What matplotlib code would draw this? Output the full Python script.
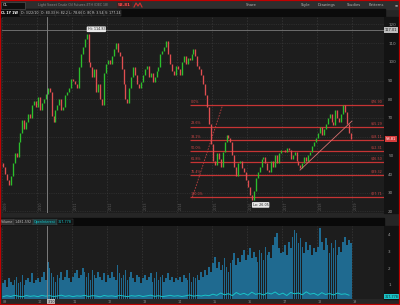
import numpy as np
import matplotlib.pyplot as plt
from matplotlib.patches import Rectangle
from matplotlib.lines import Line2D

# Cierres aproximados (18 puntos por año, 2009-2018)
close_2009 = [44, 40, 37, 34, 39, 46, 51, 49, 57, 62, 69, 64, 68, 72, 70, 77, 79, 76]
close_2010 = [81, 74, 78, 80, 83, 86, 84, 71, 68, 74, 77, 80, 74, 76, 82, 84, 86, 91]
close_2011 = [90, 88, 86, 97, 104, 108, 112, 114.83, 100, 97, 92, 96, 84, 88, 80, 77, 94, 99]
close_2012 = [101, 99, 103, 107, 110, 105, 103, 96, 88, 80, 78, 86, 92, 97, 93, 88, 86, 89]
close_2013 = [93, 96, 98, 92, 94, 89, 92, 95, 97, 104, 106, 108, 111, 104, 99, 95, 93, 98]
close_2014 = [96, 93, 100, 103, 99, 102, 101, 104, 107, 103, 98, 96, 93, 88, 82, 76, 67, 56]
close_2015 = [47, 45, 51, 48, 44, 52, 57, 61, 59, 57, 50, 44, 39, 46, 47, 43, 41, 37]
close_2016 = [33, 29, 26.05, 31, 38, 41, 44, 48, 49, 46, 42, 41, 47, 44, 50, 46, 51, 53]
close_2017 = [53, 52, 54, 53, 48, 50, 52, 47, 45, 43, 46, 49, 47, 50, 52, 55, 57, 59]
close_2018 = [62, 65, 61, 64, 67, 70, 72, 68, 66, 74, 70, 68, 72, 76.90, 73, 67, 62, 58.81]

vol_2009 = [1.1, 1.3, 0.9, 1.4, 1.2, 1.0, 1.3, 1.5, 1.1, 1.2, 1.6, 1.0, 1.3, 1.4, 1.2, 1.7, 1.1, 1.3]
vol_2010 = [1.4, 1.2, 1.5, 1.8, 1.3, 2.4, 2.0, 1.7, 1.5, 1.2, 1.6, 1.4, 1.8, 1.3, 1.5, 1.9, 1.4, 1.2]
vol_2011 = [1.5, 1.7, 1.9, 1.4, 1.6, 2.0, 1.8, 1.5, 1.7, 1.3, 1.9, 1.6, 1.4, 1.8, 1.5, 1.3, 1.7, 1.2]
vol_2012 = [1.6, 1.4, 1.8, 1.5, 1.3, 2.2, 1.7, 1.4, 1.6, 1.9, 1.3, 1.5, 1.8, 1.4, 1.2, 1.6, 1.5, 1.1]
vol_2013 = [1.4, 1.6, 1.3, 1.5, 1.7, 1.2, 1.4, 1.8, 1.3, 1.5, 1.6, 1.2, 1.4, 1.7, 1.3, 1.5, 1.2, 1.4]
vol_2014 = [1.3, 1.5, 1.2, 1.6, 1.4, 1.3, 1.7, 1.2, 1.5, 1.4, 1.6, 1.3, 1.8, 1.5, 1.9, 1.6, 2.1, 1.8]
vol_2015 = [2.3, 2.7, 2.0, 2.4, 1.9, 2.2, 2.6, 2.1, 1.8, 2.3, 2.5, 2.9, 2.2, 2.6, 2.4, 2.8, 3.1, 2.5]
vol_2016 = [2.8, 3.2, 2.6, 3.0, 2.7, 2.4, 3.1, 2.9, 2.5, 3.3, 2.8, 3.0, 2.6, 3.4, 3.9, 4.1, 3.2, 2.9]
vol_2017 = [3.0, 3.4, 2.8, 3.6, 3.2, 3.9, 4.3, 4.1, 3.5, 3.8, 3.3, 2.9, 3.6, 3.1, 3.4, 2.8, 3.2, 3.0]
vol_2018 = [3.3, 4.4, 3.6, 3.1, 3.8, 3.4, 2.9, 3.5, 3.2, 3.7, 2.8, 3.3, 3.0, 3.6, 3.9, 3.4, 3.7, 3.5]

# Open interest (un valor cada dos velas)
open_int = [0.30, 0.36, 0.31, 0.38, 0.33, 0.29, 0.37, 0.32, 0.35, 0.30,
            0.38, 0.33, 0.36, 0.31, 0.34, 0.39, 0.32, 0.36, 0.30, 0.35,
            0.33, 0.38, 0.31, 0.36, 0.34, 0.29, 0.37, 0.33, 0.35, 0.31,
            0.38, 0.34, 0.30, 0.36, 0.33, 0.37, 0.31, 0.35, 0.39, 0.32,
            0.36, 0.30, 0.34, 0.38, 0.33, 0.36, 0.31, 0.35, 0.40, 0.33,
            0.37, 0.34, 0.39, 0.36,
            0.45, 0.38, 0.52, 0.41, 0.48, 0.36, 0.55, 0.43, 0.50, 0.39,
            0.57, 0.44, 0.49, 0.40, 0.53, 0.46, 0.58, 0.42, 0.51, 0.37,
            0.55, 0.47, 0.52, 0.41, 0.59, 0.45, 0.50, 0.38, 0.54, 0.43,
            0.49, 0.40, 0.52, 0.44, 0.47, 0.39]

years = ['2009', '2010', '2011', '2012', '2013', '2014', '2015', '2016', '2017', '2018', '2019']
axis_years = ['09', '10', '11', '12', '13', '14', '15', '16', '17', '18', '19']

fib_pct = [0.0, 23.6, 38.2, 50.0, 61.8, 76.4, 100.0]
fib_hi = 76.90
fib_lo = 27.71
price_ticks = [20, 30, 40, 50, 70, 80, 90, 100, 110, 120]   # el 60 queda tapado por el último precio
vol_ticks = [1, 2, 3, 4]

closes = np.array(close_2009 + close_2010 + close_2011 + close_2012 + close_2013 +
                  close_2014 + close_2015 + close_2016 + close_2017 + close_2018)
volume = np.array(vol_2009 + vol_2010 + vol_2011 + vol_2012 + vol_2013 +
                  vol_2014 + vol_2015 + vol_2016 + vol_2017 + vol_2018)
opens = np.concatenate([[46.0], closes[:-1]])
idx = np.arange(len(closes))

BG = '#1d1d1d'
GRID = '#3a3a3a'
TXT = '#9a9a9a'


def fx(x):
    return x / 400


def fy(y):
    return 1 - y / 305


fig = plt.figure(figsize=(4, 3.05), dpi=100, facecolor='#262626')

# barras superiores
fig.patches.append(Rectangle((0, fy(9)), 1, 9 / 305, transform=fig.transFigure,
                             color='#2e2e2e', zorder=-1))
fig.patches.append(Rectangle((0, fy(17)), 385 / 400, 8 / 305, transform=fig.transFigure,
                             color='#0b0b0b', zorder=-1))
fig.patches.append(Rectangle((fx(1), fy(8.5)), 24 / 400, 6.5 / 305, transform=fig.transFigure,
                             fc='#101010', ec='#5a5a5a', lw=0.4, zorder=1))
fig.text(fx(3), fy(5.3), 'CL', fontsize=3.0, color='white', va='center')
fig.text(fx(38), fy(5.3), 'Light Sweet Crude Oil Futures,ETH (DEC 18)', fontsize=2.3,
         color='#8a8a8a', va='center')
fig.text(fx(118), fy(5.3), '58.81', fontsize=3.0, color='#ff4b4b', weight='bold', va='center',
         bbox=dict(boxstyle='square,pad=0.25', fc='#3a2222', ec='none'))
fig.lines.append(Line2D([fx(134), fx(136), fx(138), fx(140), fx(142)],
                        [fy(7), fy(3), fy(6), fy(3), fy(7)], transform=fig.transFigure,
                        color='#d03030', lw=0.8))
for x, t in [(246, 'Share'), (301, 'Style'), (318, 'Drawings'), (347, 'Studies'), (369, 'Patterns'), (395, '≡')]:
    fig.text(fx(x), fy(5.3), t, fontsize=2.7, color='#b5b5b5', va='center')

fig.text(fx(1), fy(13), 'CL 1Y 1W', fontsize=2.3, color='white', weight='bold', va='center')
info = [(21, 'D: 3/22/10'), (41, 'O: 80.33'), (56, 'H: 82.2'), (69, 'L: 78.66'),
        (83, 'C: 80'), (92, 'R: 3.54'), (105, 'V: 177.24')]
for x, t in info:
    fig.text(fx(x), fy(13), t, fontsize=2.3, color='#cfcfcf', va='center',
             bbox=dict(boxstyle='square,pad=0.2', fc='#1b1b1b', ec='#4a4a4a', lw=0.3))

# panel de precios
ax = fig.add_axes([fx(2), fy(213), 382 / 400, 196 / 305])
ax.set_facecolor(BG)
ax.set_xlim(-0.5, 196)
ax.set_ylim(19.15, 123.96)
for s in ax.spines.values():
    s.set_visible(False)
ax.set_xticks([])
ax.yaxis.tick_right()
ax.set_yticks(price_ticks)
ax.tick_params(axis='y', length=0, pad=3, labelsize=3.0, labelcolor=TXT)

for v in price_ticks + [60]:
    ax.axhline(v, color=GRID, lw=0.4, ls=(0, (2, 2)), zorder=0)
for k, yr in enumerate(years):
    ax.axvline(18 * k - 0.5, color=GRID, lw=0.5, ls=(0, (2, 2)), zorder=0)
    ax.text(18 * k + 0.3, 21, yr, rotation=90, fontsize=2.4, color='#5c5c5c', va='bottom')

colors = np.where(closes >= opens, '#2cbf2c', '#e04e50')
ax.vlines(idx, np.minimum(opens, closes), np.maximum(opens, closes), colors=colors, lw=0.95, zorder=3)

# Fibonacci
levels = [fib_hi - p / 100 * (fib_hi - fib_lo) for p in fib_pct]
ax.hlines(levels, 96.2, 196, color='#c63434', lw=0.9, zorder=2)
for p, lv in zip(fib_pct, levels):
    ax.text(96.6, lv + 0.7, f'{p:.1f}%', fontsize=2.4, color='#d04545', va='bottom')
    ax.text(195.3, lv + 0.7, f'${lv:.2f}', fontsize=2.4, color='#d04545', va='bottom', ha='right')
ax.plot([97.5, 113], [fib_lo, fib_hi], color='#c04040', lw=0.6, ls=(0, (2, 1.5)), zorder=2)
ax.plot([152.8, 179.5], [42.1, 68.3], color='#d87070', lw=0.6, zorder=4)

# cursor
ax.axvline(22.6, color='#8a8a8a', lw=0.6, zorder=5)
ax.axhline(117.0, color='#7a7a7a', lw=0.6, zorder=5)

i_hi = int(np.argmax(closes))
i_lo = int(np.argmin(closes))
ax.text(i_hi + 0.5, closes[i_hi] + 1.5, f'Hi: {closes[i_hi]:.2f}', fontsize=2.4, color='#222',
        va='bottom', bbox=dict(boxstyle='round,pad=0.25', fc='#e8e8e8', ec='none'), zorder=6)
ax.text(i_lo + 0.5, closes[i_lo] - 1.5, f'Lo: {closes[i_lo]:.2f}', fontsize=2.4, color='#222',
        va='top', bbox=dict(boxstyle='round,pad=0.25', fc='#e8e8e8', ec='none'), zorder=6)

fig.patches.append(Rectangle((fx(384), fy(213)), 16 / 400, 196 / 305, transform=fig.transFigure,
                             color='#131313', zorder=-1))
fig.text(fx(385), fy(30), '117.01', fontsize=2.6, color='#222', va='center',
         bbox=dict(boxstyle='square,pad=0.2', fc='#bdbdbd', ec='none'))
fig.text(fx(386), fy(139), f'{closes[-1]:.2f}', fontsize=2.6, color='white', va='center',
         bbox=dict(boxstyle='square,pad=0.2', fc='#d63c3c', ec='none'))

# cabecera del volumen
fig.patches.append(Rectangle((0, fy(226)), 384 / 400, 8 / 305, transform=fig.transFigure,
                             color='#090909', zorder=-1))
hdr = [(1, 'Volume', '#bdbdbd', '#333333'), (15, '1,481,592', '#bdbdbd', '#222222'),
       (34, 'OpenInterest', '#19c3c8', '#1c3a3c'), (58, '317,778', '#19c3c8', '#111')]
for x, t, c, bg in hdr:
    fig.text(fx(x), fy(222), t, fontsize=2.4, color=c, va='center',
             bbox=dict(boxstyle='square,pad=0.25', fc=bg, ec='#4a4a4a', lw=0.3))

# panel de volumen
ax2 = fig.add_axes([fx(2), fy(299), 382 / 400, 73 / 305])
ax2.set_facecolor(BG)
ax2.set_xlim(-0.5, 196)
ax2.set_ylim(0.16, 4.54)
for s in ax2.spines.values():
    s.set_visible(False)
ax2.set_xticks([])
ax2.yaxis.tick_right()
ax2.set_yticks(vol_ticks)
ax2.tick_params(axis='y', length=0, pad=3, labelsize=3.0, labelcolor=TXT)
for k in range(len(years)):
    ax2.axvline(18 * k - 0.5, color=GRID, lw=0.5, ls=(0, (2, 2)), zorder=0)
ax2.bar(idx, volume, width=0.85, color='#1f6a90', zorder=2)
ax2.plot(np.arange(len(open_int)) * 2, open_int, color='#19c3c8', lw=0.7, zorder=3)
ax2.axvline(22.6, color='#8a8a8a', lw=0.6, zorder=5)
fig.patches.append(Rectangle((fx(384), fy(299)), 16 / 400, 73 / 305, transform=fig.transFigure,
                             color='#131313', zorder=-1))
fig.text(fx(385), fy(296.5), '317,778', fontsize=2.4, color='#0d2d2e', va='center',
         bbox=dict(boxstyle='square,pad=0.2', fc='#19c3c8', ec='none'))

# eje temporal
for k, t in enumerate(axis_years):
    fig.text(fx(5 + 35 * k), fy(302), t, fontsize=2.4, color='#8a8a8a', ha='center', va='center')
fig.text(fx(51), fy(302), '3/10', fontsize=2.4, color='#222', ha='center', va='center',
         bbox=dict(boxstyle='square,pad=0.2', fc='#bdbdbd', ec='none'))

fig.patches.append(Rectangle((0, 0), 1, 1, transform=fig.transFigure, fill=False,
                             ec='#c00000', lw=1.6, zorder=10))

fig.savefig('out.png', dpi=100, facecolor=fig.get_facecolor())
